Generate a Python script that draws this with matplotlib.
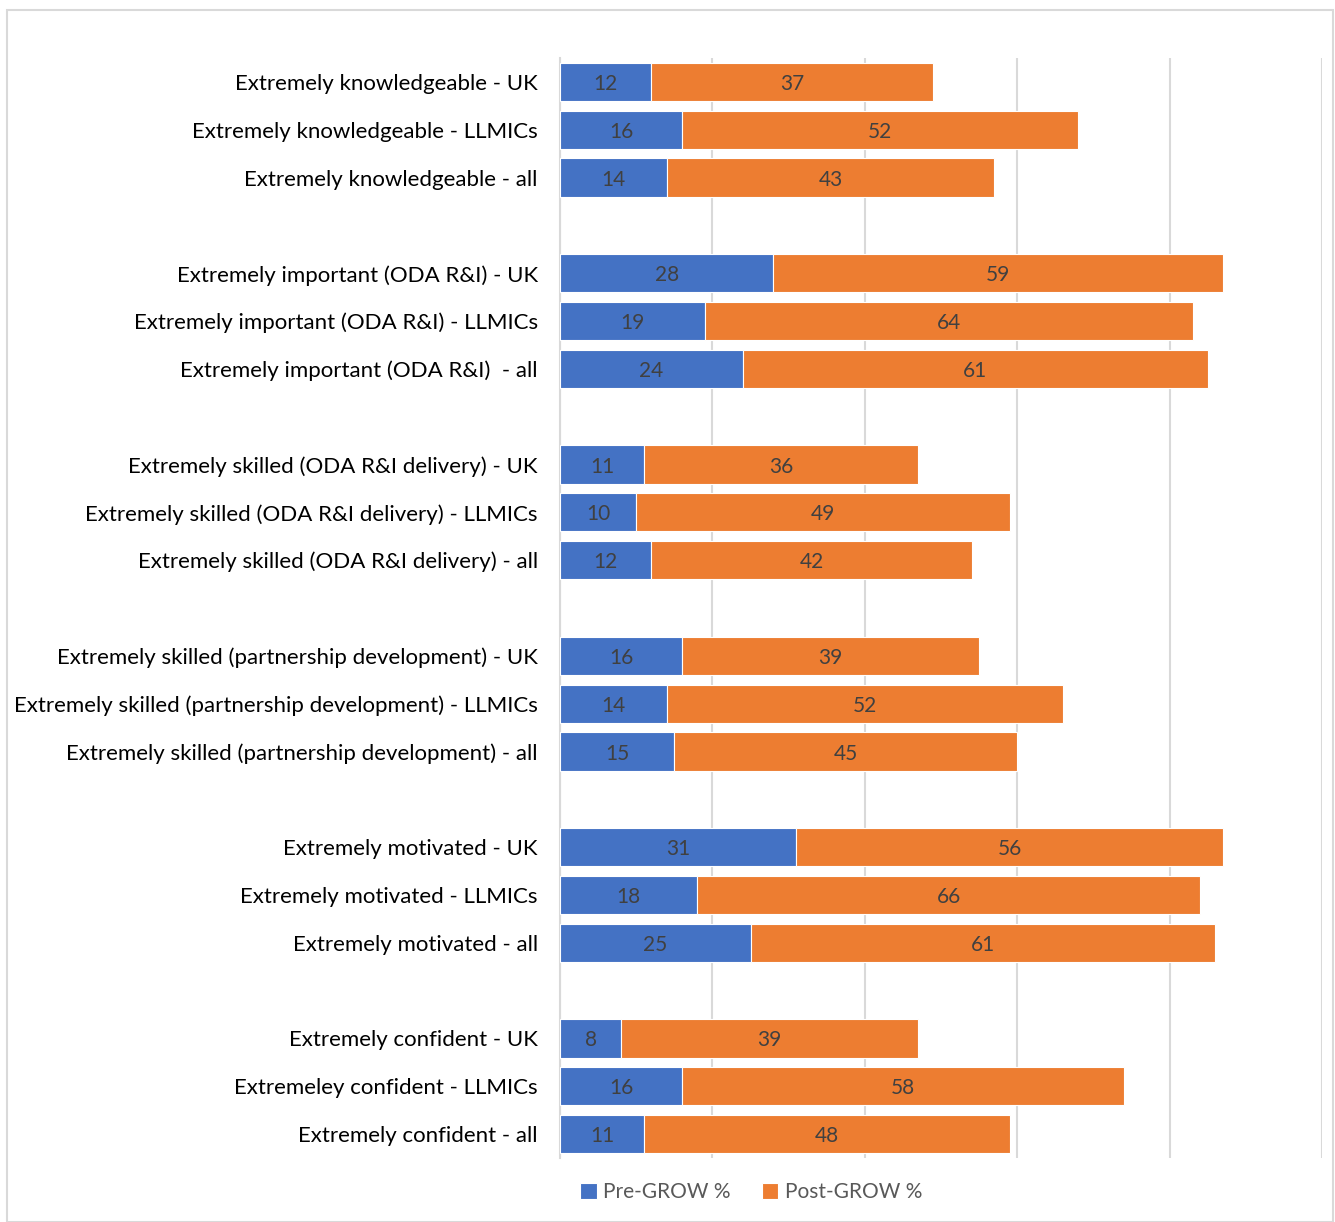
"""Pre/Post GROW stacked horizontal bars."""

import matplotlib
matplotlib.use("Agg")
from matplotlib import pyplot as plt
from matplotlib.patches import Rectangle

plt.rcParams['font.family'] = ['Lato', 'DejaVu Sans']

# Data (blank strings are spacer rows between groups)
categories = [
    "Extremely knowledgeable - UK",
    "Extremely knowledgeable - LLMICs",
    "Extremely knowledgeable - all",
    "",
    "Extremely important (ODA R&I) - UK",
    "Extremely important (ODA R&I) - LLMICs",
    "Extremely important (ODA R&I)  - all",
    "",
    "Extremely skilled (ODA R&I delivery) - UK",
    "Extremely skilled (ODA R&I delivery) - LLMICs",
    "Extremely skilled (ODA R&I delivery) - all",
    "",
    "Extremely skilled (partnership development) - UK",
    "Extremely skilled (partnership development) - LLMICs",
    "Extremely skilled (partnership development) - all",
    "",
    "Extremely motivated - UK",
    "Extremely motivated - LLMICs",
    "Extremely motivated - all",
    "",
    "Extremely confident - UK",
    "Extremeley confident - LLMICs",
    "Extremely confident - all",
]
pre_grow = [12, 16, 14, None, 28, 19, 24, None, 11, 10, 12, None,
            16, 14, 15, None, 31, 18, 25, None, 8, 16, 11]
post_grow = [37, 52, 43, None, 59, 64, 61, None, 36, 49, 42, None,
             39, 52, 45, None, 56, 66, 61, None, 39, 58, 48]

BLUE = "#4472C4"
ORANGE = "#ED7D31"
GRID = "#D9D9D9"
TEXT = "#404040"

fig = plt.figure(figsize=(13.35, 12.22), dpi=100)
ax = fig.add_axes([0.4195, 0.0524, 0.5708, 0.9001])

# Outer chart frame
fig.patches.append(Rectangle((7 / 1335, 0), 1326 / 1335, 1 - 10 / 1222,
                             transform=fig.transFigure, fill=False,
                             edgecolor=GRID, linewidth=1.5))

rows = [i for i, v in enumerate(pre_grow) if v is not None]
pre = [pre_grow[i] for i in rows]
post = [post_grow[i] for i in rows]

b1 = ax.barh(rows, pre, height=0.8, color=BLUE, edgecolor="white",
             linewidth=0.8, label="Pre-GROW %", zorder=3)
b2 = ax.barh(rows, post, left=pre, height=0.8, color=ORANGE,
             edgecolor="white", linewidth=0.8, label="Post-GROW %", zorder=3)

for bars in (b1, b2):
    for t in ax.bar_label(bars, label_type="center", fontsize=15, color=TEXT):
        t.xyann = (0, -1.5)

# Axes configuration
ax.set_xlim(0, 100)
ax.set_ylim(len(categories) - 0.5, -0.5)
ax.set_xticks(range(0, 101, 20))
ax.set_xticklabels([])
ax.tick_params(axis="x", length=0)
ax.set_yticks(range(len(categories)))
ax.set_yticklabels(categories, fontsize=16, color="black")
ax.tick_params(axis="y", length=0, pad=16)
ax.grid(axis="x", color=GRID, linewidth=1.5, zorder=0)
for side in ["top", "right", "bottom"]:
    ax.spines[side].set_visible(False)
ax.spines["left"].set_color(GRID)
ax.spines["left"].set_linewidth(1.5)

fig.legend(handles=[b1, b2], loc="center", ncol=2, frameon=False,
           bbox_to_anchor=(751 / 1335, 1 - 1192 / 1222), fontsize=15,
           labelcolor="#595959", handlelength=0.8, handleheight=0.8,
           handletextpad=0.3, columnspacing=1.5)

fig.savefig("out.png", dpi=100)
